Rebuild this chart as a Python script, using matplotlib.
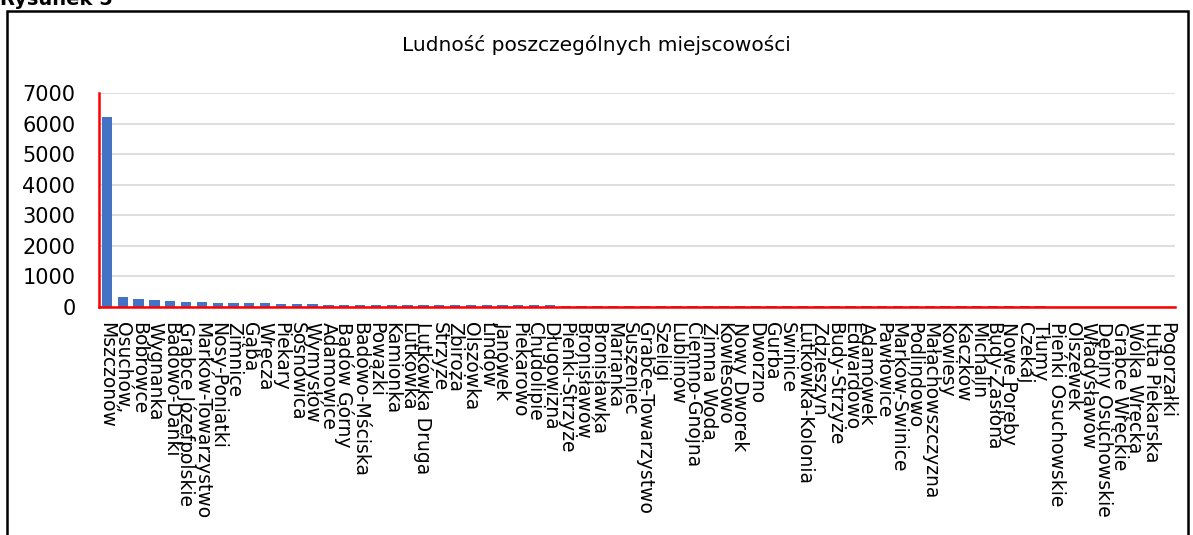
import matplotlib
matplotlib.use('Agg')
import matplotlib.pyplot as plt
from matplotlib.patches import Rectangle
import numpy as np

# miejscowosci (od najwiekszej)
places = [
    'Mszczonów', 'Osuchów,', 'Bobrowce', 'Wygnanka', 'Badowo-Dańki',
    'Grabce Józefpolskie', 'Marków-Towarzystwo', 'Nosy-Poniatki', 'Zimnice',
    'Gąba', 'Wręcza', 'Piekary', 'Sosnowica', 'Wymysłów', 'Adamowice',
    'Badów Górny', 'Badowo-Mściska', 'Powązki', 'Kamionka', 'Lutkówka',
    'Lutkówka Druga', 'Strzyże', 'Zbiroża', 'Olszówka', 'Lindów', 'Janówek',
    'Piekarowo', 'Chudolipie', 'Długowizna', 'Pieńki-Strzyże', 'Bronisławów',
    'Bronisławka', 'Marianka', 'Suszeniec', 'Grabce-Towarzystwo', 'Szeligi',
    'Lublinów', 'Ciemno-Gnojna', 'Zimna Woda', 'Kowiesowo', 'Nowy Dworek',
    'Dworzno', 'Gurba', 'Świnice', 'Lutkówka-Kolonia', 'Zdzieszyn',
    'Budy-Strzyże', 'Edwardowo', 'Adamówek', 'Pawłowice', 'Marków-Świnice',
    'Podlindowo', 'Małachowszczyzna', 'Kowiesy', 'Kaczków', 'Michalin',
    'Budy-Zasłona', 'Nowe Poręby', 'Czekaj', 'Tłumy', 'Pieńki Osuchowskie',
    'Olszewek', 'Władysławów', 'Dębiny Osuchowskie', 'Grabce Wręckie',
    'Wólka Wręcka', 'Huta Piekarska', 'Pogorzałki',
]

# liczba mieszkancow
population = [
    6200, 340, 250, 225, 200, 170, 160, 140, 125, 122,
    120, 110, 95, 92, 80, 78, 75, 72, 70, 68,
    66, 65, 63, 60, 58, 56, 54, 52, 50, 48,
    47, 46, 45, 44, 42, 41, 40, 39, 38, 37,
    36, 35, 34, 33, 32, 31, 30, 29, 28, 27,
    26, 25, 24, 23, 22, 21, 20, 19, 18, 17,
    16, 15, 14, 13, 12, 11, 10, 9,
]

y_ticks = [0, 1000, 2000, 3000, 4000, 5000, 6000, 7000]

fig = plt.figure(figsize=(11.93, 5.35), dpi=100)
ax = fig.add_axes([99 / 1193, 1 - 307 / 535, (1175 - 99) / 1193, (307 - 93) / 535])

x = np.arange(len(places))
ax.bar(x, population, width=0.65, color='#4472C4', zorder=3)

ax.set_xlim(-0.5, len(places) - 0.5)
ax.set_ylim(0, 7000)
ax.set_yticks(y_ticks)
ax.set_yticklabels([str(v) for v in y_ticks], fontsize=15)
ax.set_xticks(x)
ax.set_xticklabels(places, rotation=270, fontsize=13.5, va='top', ha='center')
ax.tick_params(axis='x', length=0, pad=11)
ax.tick_params(axis='y', length=0, pad=17)

ax.grid(axis='y', color='#D9D9D9', linewidth=1.2, zorder=0)
for side in ['top', 'right']:
    ax.spines[side].set_visible(False)
for side in ['left', 'bottom']:
    ax.spines[side].set_color('#FF0000')
    ax.spines[side].set_linewidth(1.8)
    ax.spines[side].set_zorder(4)

fig.text(0.5, 1 - 45 / 535, 'Ludność poszczególnych miejscowości',
         ha='center', va='center', fontsize=14.5)

# ramka i podpis
fig.add_artist(Rectangle((7 / 1193, -0.05), (1188 - 7) / 1193, 1.05 - 11 / 535,
                         transform=fig.transFigure, fill=False,
                         edgecolor='black', linewidth=1.8))
fig.text(0.0, 1 - 5 / 535, 'Rysunek 5', ha='left', va='baseline',
         fontsize=14, fontweight='bold')

fig.savefig('out.png', dpi=100)
